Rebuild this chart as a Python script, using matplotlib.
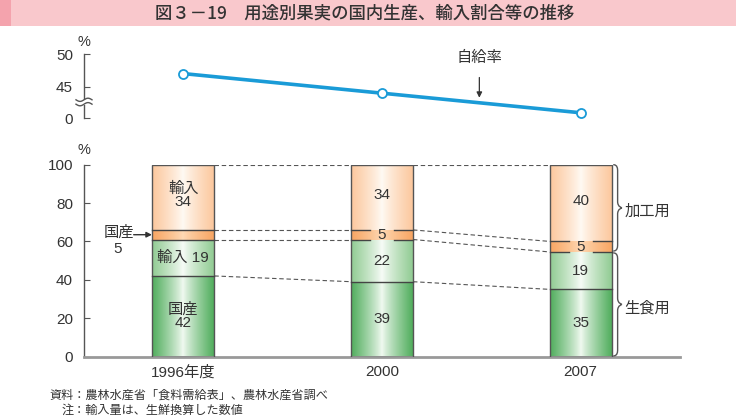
import numpy as np
import matplotlib
matplotlib.use('Agg')
import matplotlib.pyplot as plt
from matplotlib.path import Path
from matplotlib.patches import PathPatch, Rectangle
from matplotlib.lines import Line2D

plt.rcParams['font.family'] = ['Liberation Sans', 'Noto Sans CJK JP', 'DejaVu Sans']
CJK = ['Noto Sans CJK JP', 'DejaVu Sans']

# ---------------- data ----------------
years = ['1996年度', '2000', '2007']
self_rate = [47, 44, 41]                 # 自給率 (%)
fresh_domestic = [42, 39, 35]            # 生食用 国産
fresh_import = [19, 22, 19]              # 生食用 輸入
proc_domestic = [5, 5, 5]                # 加工用 国産
proc_import = [34, 34, 40]               # 加工用 輸入
# drawn heights (labels above are rounded values)
fresh_domestic_h = [42, 39, 35]
fresh_import_h = [19, 22, 19.5]
proc_domestic_h = [5, 5, 5.5]
proc_import_h = [34, 34, 40]

W, H = 736, 418
fig = plt.figure(figsize=(W / 100, H / 100), dpi=100)


def fx(px):
    return px / W


def fy(py):
    return 1 - py / H


TXT = '#333333'
GRAY = '#555555'

# ---------------- title band ----------------
fig.patches.append(Rectangle((0, fy(26)), 1, 26 / H, transform=fig.transFigure,
                             facecolor='#f9c8cc', edgecolor='none', zorder=0))
fig.patches.append(Rectangle((0, fy(26)), 11 / W, 26 / H, transform=fig.transFigure,
                             facecolor='#f4a3ad', edgecolor='none', zorder=0))
fig.text(fx(365), fy(13.5), '図３－19　用途別果実の国内生産、輸入割合等の推移',
         ha='center', va='center', fontsize=12.5, color=TXT, family=CJK, weight='medium')

# ---------------- bottom (bars) axes ----------------
ax = fig.add_axes([fx(84), fy(356.5), (680 - 84) / W, (356.5 - 164.7) / H])
ax.set_xlim(-0.5, 2.5)
ax.set_ylim(0, 100)
for s in ['top', 'right']:
    ax.spines[s].set_visible(False)
ax.spines['left'].set_color(GRAY)
ax.spines['left'].set_linewidth(1.0)
ax.spines['bottom'].set_color('#999999')
ax.spines['bottom'].set_linewidth(2.0)
ax.set_yticks([0, 20, 40, 60, 80, 100])
ax.tick_params(axis='y', direction='in', length=4, color=GRAY, labelsize=11,
               labelcolor=TXT, pad=8)
ax.set_xticks(range(len(years)))
ax.set_xticklabels(years)
ax.tick_params(axis='x', length=0, labelsize=11, labelcolor=TXT, pad=6)

xs = np.arange(len(years))
bw = 0.312

edge_cols = [np.array([82, 174, 94]) / 255,
             np.array([146, 204, 148]) / 255,
             np.array([248, 166, 100]) / 255,
             np.array([252, 200, 158]) / 255]
center_cols = [np.array([242, 250, 242]) / 255,
               np.array([248, 252, 248]) / 255,
               np.array([254, 218, 182]) / 255,
               np.array([255, 250, 244]) / 255]

seg_h = [fresh_domestic_h, fresh_import_h, proc_domestic_h, proc_import_h]
seg_lab = [fresh_domestic, fresh_import, proc_domestic, proc_import]

N = 80
u = np.linspace(-1, 1, N)
t = np.abs(u) ** 0.85

for i, x in enumerate(xs):
    bottom = 0
    x0, x1 = x - bw / 2, x + bw / 2
    bounds = [0]
    for k in range(4):
        h = seg_h[k][i]
        img = center_cols[k][None, :] * (1 - t[:, None]) + edge_cols[k][None, :] * t[:, None]
        ax.imshow(img[None, :, :], extent=(x0, x1, bottom, bottom + h), aspect='auto',
                  interpolation='bilinear', zorder=2)
        bottom += h
        bounds.append(bottom)
    ax.add_patch(Rectangle((x0, 0), bw, bounds[-1], facecolor='none', edgecolor=GRAY,
                           lw=1.0, zorder=4))
    # separator lines
    for j in (1, 2, 3):
        yb = bounds[j]
        if i > 0 and j in (2, 3):
            g = 0.06
            ax.plot([x0, x - g], [yb, yb], color='#444444', lw=1.0, zorder=4)
            ax.plot([x + g, x1], [yb, yb], color='#444444', lw=1.0, zorder=4)
        else:
            ax.plot([x0, x1], [yb, yb], color='#444444', lw=1.0, zorder=4)
    # dashed connectors to next bar
    if i < len(xs) - 1:
        nb = [0]
        for k in range(4):
            nb.append(nb[-1] + seg_h[k][i + 1])
        for j in (1, 2, 3, 4):
            ax.plot([x1, xs[i + 1] - bw / 2], [bounds[j], nb[j]], color=GRAY, lw=0.8,
                    ls=(0, (4, 2.5)), zorder=3)
    # labels
    b = bounds
    if i == 0:
        ax.text(x, (b[0] + b[1]) / 2, f'国産\n{seg_lab[0][i]}', ha='center', va='center',
                fontsize=11, color=TXT, linespacing=1.0, zorder=5)
        ax.text(x, (b[1] + b[2]) / 2, f'輸入 {seg_lab[1][i]}', ha='center', va='center',
                fontsize=11, color=TXT, zorder=5)
        ax.text(x, (b[3] + b[4]) / 2 + 1, f'輸入\n{seg_lab[3][i]}', ha='center', va='center',
                fontsize=11, color=TXT, linespacing=1.0, zorder=5)
    else:
        ax.text(x, (b[0] + b[1]) / 2, f'{seg_lab[0][i]}', ha='center', va='center',
                fontsize=11, color=TXT, zorder=5)
        ax.text(x, (b[1] + b[2]) / 2, f'{seg_lab[1][i]}', ha='center', va='center',
                fontsize=11, color=TXT, zorder=5)
        ax.text(x, (b[2] + b[3]) / 2, f'{seg_lab[2][i]}', ha='center', va='center',
                fontsize=11, color=TXT, zorder=5)
        ax.text(x, (b[3] + b[4]) / 2 + 1, f'{seg_lab[3][i]}', ha='center', va='center',
                fontsize=11, color=TXT, zorder=5)

# 国産 5 annotation for 1996
mid5 = fresh_domestic_h[0] + fresh_import_h[0] + proc_domestic_h[0] / 2
ax.text(-0.325, mid5 + 1.0, '国産', ha='center', va='center', fontsize=11, color=TXT)
ax.text(-0.33, mid5 - 7.5, f'{proc_domestic[0]}', ha='center', va='center', fontsize=11, color=TXT)
ax.annotate('', xy=(-0.158, mid5), xytext=(-0.25, mid5),
            arrowprops=dict(arrowstyle='-|>', color='#333333', lw=1.0,
                            mutation_scale=8, shrinkA=0, shrinkB=0))


# braces on the right of 2007
def brace(axx, xb, ytop, ybot, w=0.022):
    ym = (ytop + ybot) / 2
    r = 2.2
    verts = [(xb, ytop),
             (xb + w, ytop), (xb + w, ytop - r), (xb + w, ytop - r * 1.5),
             (xb + w, ym + r * 1.5),
             (xb + w, ym + 0.4), (xb + w * 2, ym), (xb + w * 2, ym),
             (xb + w * 2, ym), (xb + w, ym - 0.4), (xb + w, ym - r * 1.5),
             (xb + w, ybot + r * 1.5),
             (xb + w, ybot + r), (xb + w, ybot), (xb, ybot)]
    codes = [Path.MOVETO,
             Path.CURVE4, Path.CURVE4, Path.CURVE4,
             Path.LINETO,
             Path.CURVE4, Path.CURVE4, Path.CURVE4,
             Path.CURVE4, Path.CURVE4, Path.CURVE4,
             Path.LINETO,
             Path.CURVE4, Path.CURVE4, Path.CURVE4]
    axx.add_patch(PathPatch(Path(verts, codes), facecolor='none', edgecolor='#555555',
                            lw=1.0, clip_on=False, zorder=5))
    return ym


last = len(xs) - 1
xr = xs[last] + bw / 2 + 0.008
top_last = sum(seg_h[k][last] for k in range(4))
fresh_last = fresh_domestic_h[last] + fresh_import_h[last]
ym1 = brace(ax, xr, top_last, fresh_last + 0.5)
ym2 = brace(ax, xr, fresh_last - 0.5, 0.3)
ax.text(xr + 0.055, ym1 - 2, '加工用', ha='left', va='center', fontsize=11, color=TXT)
ax.text(xr + 0.055, ym2 - 2, '生食用', ha='left', va='center', fontsize=11, color=TXT)

fig.text(fx(84), fy(150), '%', ha='center', va='center', fontsize=10.5, color=TXT)

# ---------------- top (self-sufficiency) axes ----------------
axt = fig.add_axes([fx(84), fy(118), (680 - 84) / W, (118 - 54) / H])
axt.set_xlim(-0.5, 2.5)
axt.set_ylim(40.2, 50)
axt.patch.set_alpha(0)
for s in ['top', 'right', 'bottom']:
    axt.spines[s].set_visible(False)
axt.spines['left'].set_color(GRAY)
axt.spines['left'].set_linewidth(1.0)
axt.set_xticks([])
axt.set_yticks([50, 45, 40.2])
axt.set_yticklabels(['50', '45', '0'])
axt.tick_params(axis='y', direction='in', length=4, color=GRAY, labelsize=11,
                labelcolor=TXT, pad=8)
axt.plot(xs, self_rate, color='#1a9bd7', lw=2.6, marker='o', ms=6.5,
         markerfacecolor='white', markeredgecolor='#1a9bd7', markeredgewidth=1.3,
         clip_on=False, zorder=3)
axt.annotate('自給率', xy=(1.49, 43.3), xytext=(1.49, 49.4), ha='center', va='center',
             fontsize=11, color=TXT,
             arrowprops=dict(arrowstyle='-|>', color='#333333', lw=0.9,
                             mutation_scale=8, shrinkA=7, shrinkB=0))
fig.text(fx(84), fy(42), '%', ha='center', va='center', fontsize=10.5, color=TXT)

# axis break marks
yb_px = 102
fig.patches.append(Rectangle((fx(80), fy(yb_px + 2.5)), 8 / W, 5 / H,
                             transform=fig.transFigure, facecolor='white',
                             edgecolor='none', zorder=5))
wx = np.linspace(-8, 8, 30)
for off in (-2.2, 2.2):
    wy = yb_px + off - 1.6 * np.sin(wx / 8 * np.pi)
    fig.add_artist(Line2D(fx(84 + wx), fy(wy), color=GRAY, lw=1.0,
                          transform=fig.transFigure, zorder=6))

# ---------------- footer ----------------
fig.text(fx(50), fy(395), '資料：農林水産省「食料需給表」、農林水産省調べ', ha='left',
         va='center', fontsize=8.7, color=TXT, family=CJK)
fig.text(fx(62), fy(410), '注：輸入量は、生鮮換算した数値', ha='left',
         va='center', fontsize=8.7, color=TXT, family=CJK)

fig.savefig('out.png', dpi=100)
